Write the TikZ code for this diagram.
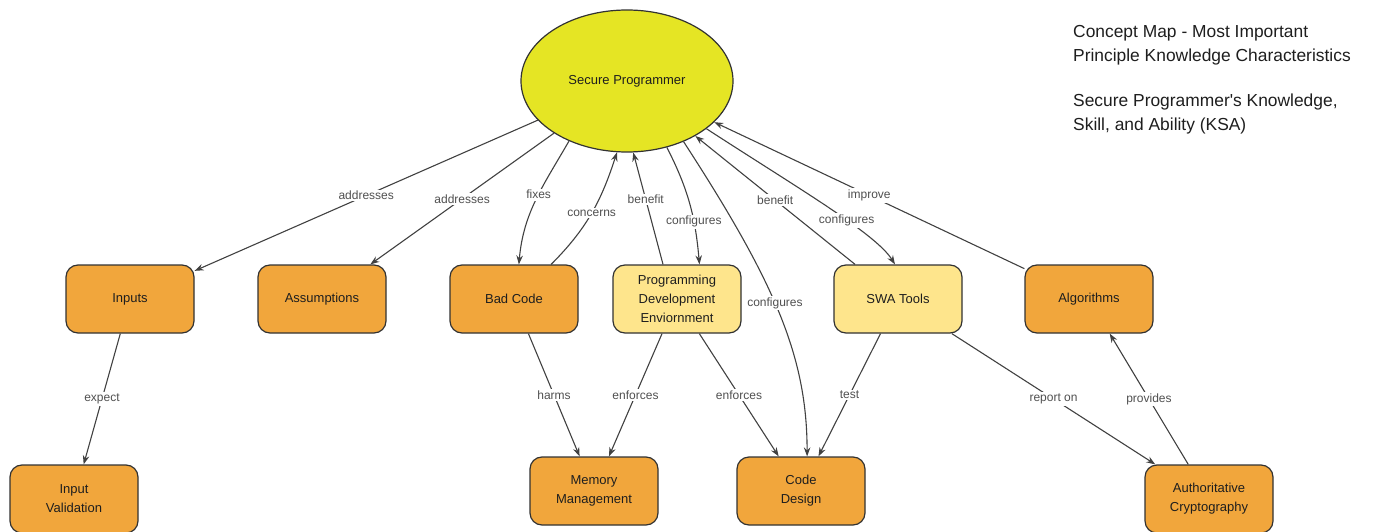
\documentclass[tikz,border=0pt]{standalone}
\usepackage{fontspec}
\setmainfont{Liberation Sans}
\newfontfamily\plainsans{Liberation Sans}
\usetikzlibrary{arrows.meta,shapes.geometric}
\definecolor{boxorange}{RGB}{241,166,60}
\definecolor{boxyellow}{RGB}{254,229,140}
\definecolor{ellyellow}{RGB}{229,229,36}
\definecolor{edgegray}{RGB}{65,65,65}
\definecolor{labelgray}{RGB}{80,80,80}
\definecolor{bordergray}{RGB}{50,50,50}
\definecolor{textdark}{RGB}{30,30,30}
\begin{document}
\begin{tikzpicture}[x=1pt,y=1pt,
  concept/.style={draw=bordergray, line width=1.2pt, rounded corners=12pt,
    minimum width=128pt, minimum height=68pt, align=center,
    font=\fontsize{13}{19}\selectfont, text=textdark, inner sep=2pt},
  orangebox/.style={concept, fill=boxorange},
  yellowbox/.style={concept, fill=boxyellow},
  link/.style={draw=edgegray, line width=1.1pt, -{Stealth[length=9pt,width=6.5pt]}},
  lbl/.style={fill=white, inner sep=1.5pt, text=labelgray, font=\fontsize{12}{14}\selectfont},
  titletext/.style={anchor=base west, font=\plainsans\fontsize{17.4}{20}\selectfont, text=textdark, inner sep=0pt}]
\useasboundingbox (0,0) rectangle (1374,-532);

% central concept
\node[ellipse, draw=bordergray, line width=1.2pt, fill=ellyellow, minimum width=212pt,
  minimum height=142pt, inner sep=0pt, font=\fontsize{13}{16}\selectfont, text=textdark]
  (sp) at (627,-81) {Secure Programmer};

% concepts
\node[orangebox] (inp) at (130,-299) {Inputs};
\node[orangebox] (asm) at (322,-299) {Assumptions};
\node[orangebox] (bad) at (514,-299) {Bad Code};
\node[yellowbox] (pde) at (677,-299) {Programming\\Development\\Enviornment};
\node[yellowbox] (swa) at (898,-299) {SWA Tools};
\node[orangebox] (alg) at (1089,-299) {Algorithms};
\node[orangebox] (iv) at (74,-499) {Input\\Validation};
\node[orangebox] (mm) at (594,-491) {Memory\\Management};
\node[orangebox] (cd) at (801,-491) {Code\\Design};
\node[orangebox] (ac) at (1209,-499) {Authoritative\\Cryptography};

% title
\node[titletext] (t1) at (1073,-38) {Concept Map - Most Important};
\node[titletext] (t2) at (1073,-62) {Principle Knowledge Characteristics};
\node[titletext] (t3) at (1073,-107) {Secure Programmer's Knowledge,};
\node[titletext] (t4) at (1073,-131) {Skill, and Ability (KSA)};

% links from / to the central concept
\draw[link] (sp) -- node[lbl]{addresses} (inp);
\draw[link] (sp) -- node[lbl]{addresses} (asm);
\draw[link] (sp.226) to[out=240,in=85] node[lbl,pos=0.45]{fixes} (bad.82);
\draw[link] (bad.43) to[out=45,in=252] node[lbl,pos=0.5]{concerns} (sp.262);
\draw[link] (pde.112) -- node[lbl,pos=0.58]{benefit} (sp.275);
\draw[link] (sp.301) to[out=-63,in=95] node[lbl,pos=0.66]{configures} (pde.57);
\draw[link] (sp.313) to[out=-57,in=90,out looseness=1.28,in looseness=0.75] node[lbl,pos=0.46]{configures} (cd.80);
\draw[link] (swa) -- node[lbl]{benefit} (sp);
\draw[link] (sp.329) to[out=-33,in=122,out looseness=1.2,in looseness=0.4] node[lbl,pos=0.6]{configures} (swa.95);
\draw[link] (alg) -- node[lbl]{improve} (sp);

% lower links
\draw[link] (inp) -- node[lbl]{expect} (iv);
\draw[link] (bad) -- node[lbl]{harms} (mm);
\draw[link] (pde) -- node[lbl]{enforces} (mm);
\draw[link] (pde) -- node[lbl]{enforces} (cd);
\draw[link] (swa) -- node[lbl]{test} (cd);
\draw[link] (swa) -- node[lbl]{report on} (ac);
\draw[link] (ac) -- node[lbl]{provides} (alg);
\end{tikzpicture}
\end{document}
